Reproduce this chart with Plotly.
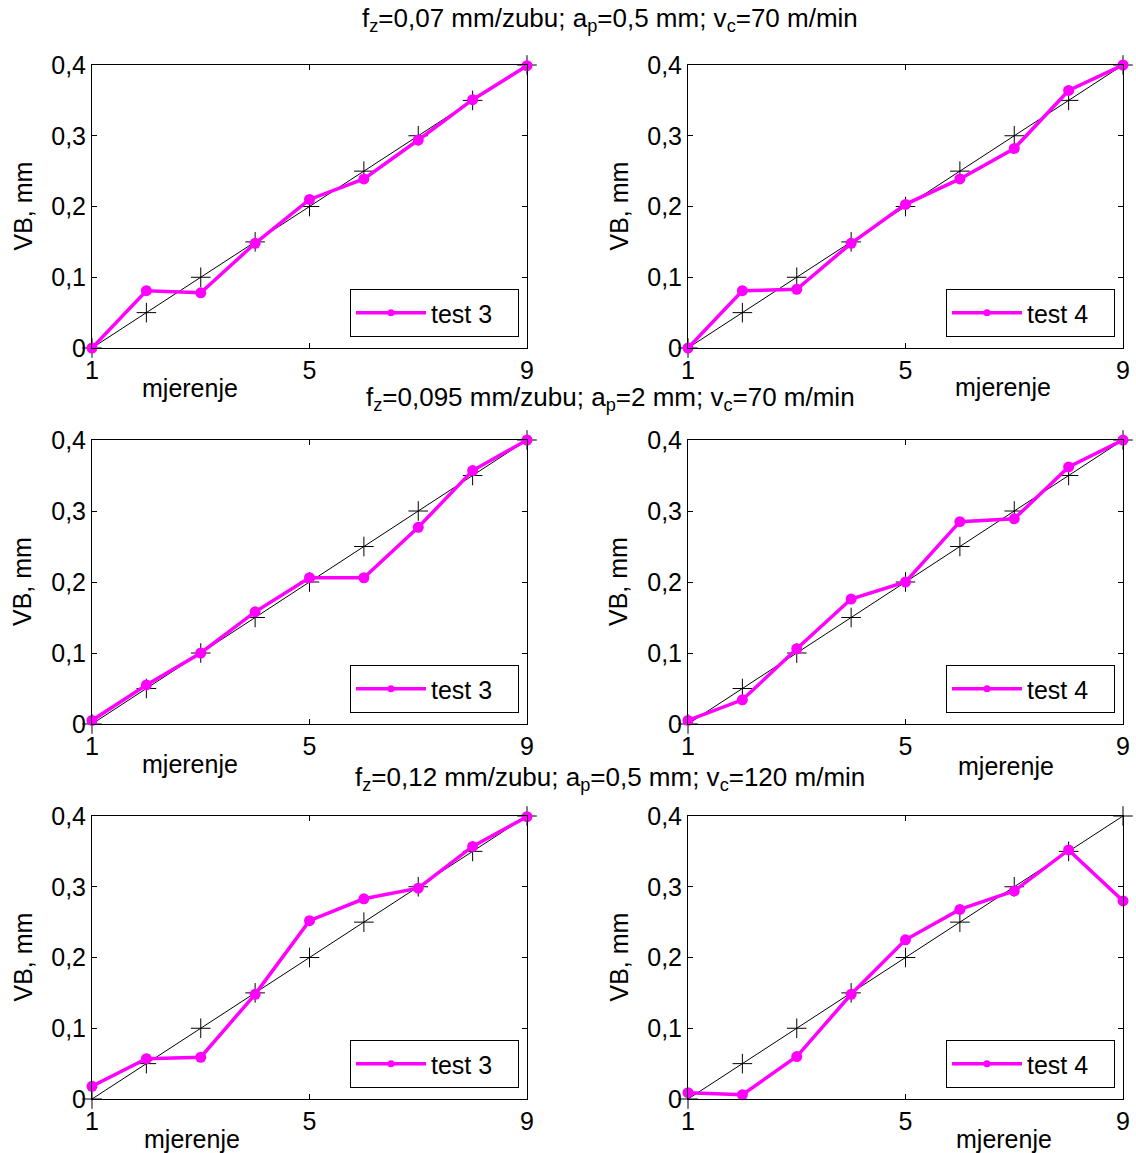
import plotly.graph_objects as go

W, H = 1136, 1153

measurements = [1, 2, 3, 4, 5, 6, 7, 8, 9]
reference_line = [0, 0.05, 0.10, 0.15, 0.20, 0.25, 0.30, 0.35, 0.40]

row1_test3 = [0.000, 0.081, 0.078, 0.148, 0.210, 0.239, 0.294, 0.351, 0.399]
row1_test4 = [0.000, 0.081, 0.083, 0.148, 0.203, 0.239, 0.282, 0.364, 0.400]
row2_test3 = [0.005, 0.055, 0.100, 0.158, 0.206, 0.206, 0.277, 0.357, 0.400]
row2_test4 = [0.005, 0.034, 0.106, 0.176, 0.200, 0.285, 0.289, 0.362, 0.400]
row3_test3 = [0.018, 0.057, 0.059, 0.148, 0.252, 0.283, 0.298, 0.357, 0.399]
row3_test4 = [0.009, 0.006, 0.060, 0.148, 0.225, 0.268, 0.294, 0.352, 0.280]

series_names = ["test 3", "test 4"]
row_titles = [
    "f<sub>z</sub>=0,07 mm/zubu; a<sub>p</sub>=0,5 mm; v<sub>c</sub>=70 m/min",
    "f<sub>z</sub>=0,095 mm/zubu; a<sub>p</sub>=2 mm; v<sub>c</sub>=70 m/min",
    "f<sub>z</sub>=0,12 mm/zubu; a<sub>p</sub>=0,5 mm; v<sub>c</sub>=120 m/min",
]
x_ticks = [1, 5, 9]
y_ticks = [0, 0.1, 0.2, 0.3, 0.4]
y_ticktext = ["0", "0,1", "0,2", "0,3", "0,4"]
x_label = "mjerenje"
y_label = "VB, mm"

data = [[row1_test3, row1_test4], [row2_test3, row2_test4], [row3_test3, row3_test4]]

FONT = "Liberation Sans, Arial, sans-serif"
MAG = "#FF00FF"
FS = 25

# pixel geometry
col_px = [(92, 527), (688, 1123)]
row_px = [(65, 348), (440, 724), (816, 1099)]
xlab_px = [[(190, 388), (1003, 387)], [(190, 764), (1006, 766)], [(192, 1139), (1004, 1139)]]
title_y = [20, 398, 778]

fig = go.Figure()
annotations = []
idx = 0
for r in range(3):
    for c in range(2):
        idx += 1
        xa = "x" if idx == 1 else f"x{idx}"
        ya = "y" if idx == 1 else f"y{idx}"
        lg = "legend" if idx == 1 else f"legend{idx}"
        fig.add_trace(go.Scatter(
            x=measurements, y=reference_line, mode="lines+markers",
            line=dict(color="black", width=1),
            marker=dict(symbol="cross-thin", size=14, line=dict(color="black", width=1)),
            showlegend=False, xaxis=xa, yaxis=ya, cliponaxis=False, hoverinfo="skip"))
        fig.add_trace(go.Scatter(
            x=measurements, y=data[r][c], mode="lines+markers", name=series_names[c],
            line=dict(color=MAG, width=3.5),
            marker=dict(symbol="circle", size=11, color=MAG),
            xaxis=xa, yaxis=ya, cliponaxis=False, showlegend=False))
        # legend-only entry (small dot like the reference legend sample)
        fig.add_trace(go.Scatter(
            x=[None], y=[None], mode="lines+markers", name=series_names[c] + "\u00a0\u00a0\u00a0",
            line=dict(color=MAG, width=3.5),
            marker=dict(symbol="circle", size=7, color=MAG),
            xaxis=xa, yaxis=ya, legend=lg, showlegend=True))
        x0, x1 = col_px[c]
        y0, y1 = row_px[r]
        axkw = dict(showgrid=False, zeroline=False, showline=True, linecolor="black", linewidth=1,
                    mirror="ticks", ticks="inside", ticklen=5, tickcolor="black", automargin=False,
                    tickfont=dict(family=FONT, size=FS, color="black"))
        fig.update_layout(**{
            ("xaxis" if idx == 1 else f"xaxis{idx}"): dict(
                domain=[x0 / W, x1 / W], range=[1, 9], tickvals=x_ticks,
                anchor=ya, **axkw),
            ("yaxis" if idx == 1 else f"yaxis{idx}"): dict(
                domain=[1 - y1 / H, 1 - y0 / H], range=[0, 0.4], tickvals=y_ticks,
                ticktext=y_ticktext, anchor=xa, **axkw),
            lg: dict(x=(x1 - 8) / W, y=1 - (y1 - 11) / H, xanchor="right", yanchor="bottom",
                     xref="paper", yref="paper",
                     bgcolor="white", bordercolor="black", borderwidth=1,
                     font=dict(family=FONT, size=FS, color="black"),
                     itemwidth=70, tracegroupgap=0),
        })
        lx, ly = xlab_px[r][c]
        annotations.append(dict(text=x_label, x=lx / W, y=1 - ly / H, xref="paper", yref="paper",
                                showarrow=False, font=dict(family=FONT, size=FS, color="black"),
                                xanchor="center", yanchor="middle"))
        annotations.append(dict(text=y_label, x=(x0 - 70) / W, y=1 - (y0 + y1) / 2 / H,
                                xref="paper", yref="paper", textangle=-90, showarrow=False,
                                font=dict(family=FONT, size=FS, color="black"),
                                xanchor="center", yanchor="middle"))
    annotations.append(dict(text=row_titles[r], x=610 / W, y=1 - title_y[r] / H,
                            xref="paper", yref="paper", showarrow=False,
                            font=dict(family=FONT, size=26, color="black"),
                            xanchor="center", yanchor="middle"))

fig.update_layout(width=W, height=H, margin=dict(l=0, r=0, t=0, b=0, pad=0, autoexpand=False),
                  paper_bgcolor="white", plot_bgcolor="white",
                  annotations=annotations, font=dict(family=FONT))
fig.write_html("out.html", config={"displayModeBar": False},
               post_script="document.body.style.margin='0';document.body.style.padding='0';"
                           "document.documentElement.style.overflow='hidden';")
